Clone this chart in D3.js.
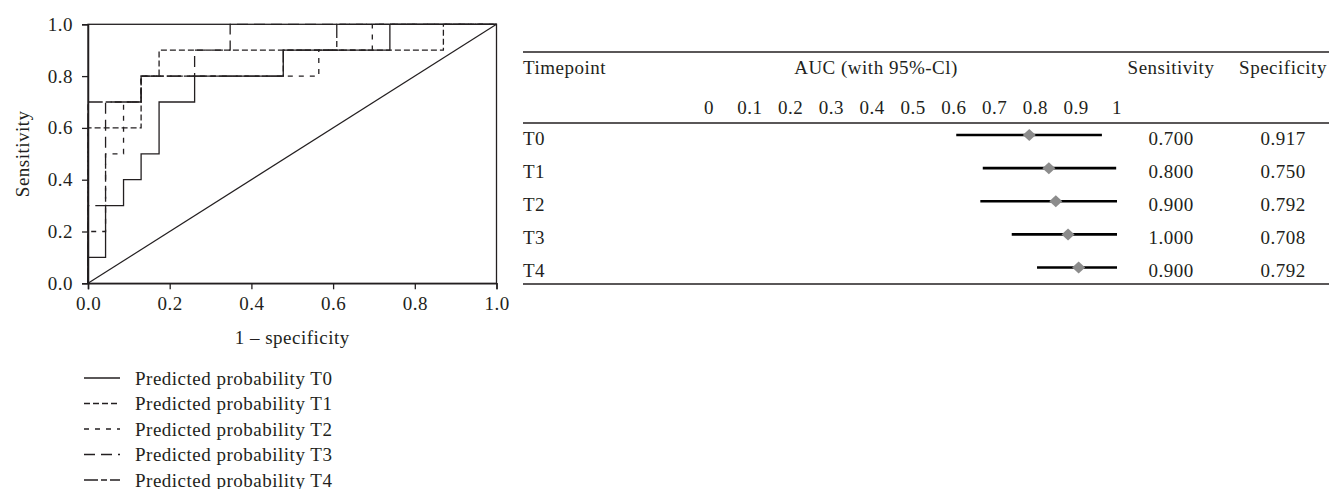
<!DOCTYPE html>
<html><head><meta charset="utf-8">
<script src="https://cdn.jsdelivr.net/npm/d3@7"></script>
<style>
html,body{margin:0;padding:0;background:#fff;}
text{font-family:"Liberation Serif","Times New Roman",serif;fill:#231f20;letter-spacing:0.5px;}
</style></head>
<body><svg id="c" width="1329" height="489"></svg>
<script>
// ---------- data ----------
const rocTicks = [0, 0.2, 0.4, 0.6, 0.8, 1.0];
const seriesNames = ["Predicted probability T0","Predicted probability T1","Predicted probability T2","Predicted probability T3","Predicted probability T4"];
const fprT0 = [0,0,0.043,0.043,0.087,0.087,0.130,0.130,0.174,0.174,0.261,0.261,0.478,0.478,0.739,0.739,1];
const tprT0 = [0,0.1,0.1,0.3,0.3,0.4,0.4,0.5,0.5,0.7,0.7,0.8,0.8,0.9,0.9,1,1];
const fprT1 = [0,0,0.130,0.130,0.174,0.174,0.870,0.870,1];
const tprT1 = [0,0.6,0.6,0.8,0.8,0.9,0.9,1,1];
const fprT2 = [0,0,0.043,0.043,0.087,0.087,0.130,0.130,0.565,0.565,0.696,0.696,1];
const tprT2 = [0,0.2,0.2,0.5,0.5,0.7,0.7,0.8,0.8,0.9,0.9,1,1];
const fprT3 = [0,0,0.043,0.043,0.130,0.130,0.261,0.261,0.348,0.348,1];
const tprT3 = [0,0.3,0.3,0.7,0.7,0.8,0.8,0.9,0.9,1,1];
const fprT4 = [0,0,0.130,0.130,0.478,0.478,0.609,0.609,1];
const tprT4 = [0,0.7,0.7,0.8,0.8,0.9,0.9,1,1];

const timepoints = ["T0","T1","T2","T3","T4"];
const aucEst   = [0.785,0.833,0.850,0.880,0.906];
const aucLow   = [0.606,0.671,0.665,0.742,0.804];
const aucHigh  = [0.963,0.998,1.000,1.000,1.000];
const sensitivity = ["0.700","0.800","0.900","1.000","0.900"];
const specificity = ["0.917","0.750","0.792","0.708","0.792"];
const aucTicks = [0,0.1,0.2,0.3,0.4,0.5,0.6,0.7,0.8,0.9,1];
const aucTickLabels = ["0","0.1","0.2","0.3","0.4","0.5","0.6","0.7","0.8","0.9","1"];

// ---------- styles ----------
const dashes = [null, "6,3", "5,6", "11,6", "14,3,6,3"];
const svg = d3.select("#c");
const FS = 19;

// ---------- ROC plot ----------
const x = d3.scaleLinear().domain([0,1]).range([88,496.5]);
const y = d3.scaleLinear().domain([0,1]).range([283.3,24.3]);

const g = svg.append("g");
g.append("rect").attr("x",x(0)).attr("y",y(1)).attr("width",x(1)-x(0)).attr("height",y(0)-y(1))
  .attr("fill","none").attr("stroke","#231f20").attr("stroke-width",1.3);
g.append("line").attr("x1",x(0)).attr("y1",y(0)).attr("x2",x(1)).attr("y2",y(1))
  .attr("stroke","#231f20").attr("stroke-width",1.2);

const xAxis = g.append("g").attr("transform",`translate(0,${y(0)})`)
  .call(d3.axisBottom(x).tickValues(rocTicks).tickFormat(d3.format(".1f")).tickSize(6).tickPadding(7));
const yAxis = g.append("g").attr("transform",`translate(${x(0)},0)`)
  .call(d3.axisLeft(y).tickValues(rocTicks).tickFormat(d3.format(".1f")).tickSize(6).tickPadding(9));
[xAxis,yAxis].forEach(a=>{
  a.select(".domain").attr("stroke","#231f20").attr("stroke-width",1.5);
  a.selectAll(".tick line").attr("stroke","#231f20").attr("stroke-width",1.3);
  a.selectAll(".tick text").attr("font-size",FS).attr("font-family",'"Liberation Serif",serif').attr("fill","#231f20");
});

const series = [[fprT0,tprT0],[fprT1,tprT1],[fprT2,tprT2],[fprT3,tprT3],[fprT4,tprT4]];
const line = d3.line().x(d=>x(d[0])).y(d=>y(d[1]));
series.forEach((s,i)=>{
  const pts = s[0].map((v,j)=>[v,s[1][j]]);
  g.append("path").attr("d",line(pts)).attr("fill","none")
    .attr("stroke","#231f20").attr("stroke-width",1.3)
    .attr("stroke-dasharray",dashes[i]);
});

g.append("text").attr("x",(x(0)+x(1))/2).attr("y",337).attr("text-anchor","middle").attr("dominant-baseline","central")
  .attr("font-size",FS).text("1 – specificity");
g.append("text").attr("transform",`translate(22,${(y(0)+y(1))/2}) rotate(-90)`)
  .attr("text-anchor","middle").attr("dominant-baseline","central").attr("font-size",FS).text("Sensitivity");

// legend
const legY = d3.scalePoint().domain(seriesNames).range([378,480]);
seriesNames.forEach((nm,i)=>{
  const yy = legY(nm);
  g.append("line").attr("x1",84).attr("x2",120).attr("y1",yy).attr("y2",yy)
    .attr("stroke","#231f20").attr("stroke-width",1.3).attr("stroke-dasharray",dashes[i]);
  g.append("text").attr("x",135).attr("y",yy).attr("dominant-baseline","central")
    .attr("font-size",FS).text(nm);
});

// ---------- table / forest plot ----------
const t = svg.append("g");
const ax = d3.scaleLinear().domain([0,1]).range([709,1117]);
const rowY = d3.scalePoint().domain(timepoints).range([135,267.5]);
const colSens = 1171, colSpec = 1283;

[52,123,284].forEach(yy=>{
  t.append("line").attr("x1",523).attr("x2",1329).attr("y1",yy).attr("y2",yy)
    .attr("stroke","#231f20").attr("stroke-width",1.4);
});
t.append("text").attr("x",523).attr("y",67).attr("dominant-baseline","central").attr("font-size",FS).text("Timepoint");
t.append("text").attr("x",876).attr("y",67).attr("dominant-baseline","central").attr("text-anchor","middle").attr("font-size",FS).text("AUC (with 95%-Cl)");
t.append("text").attr("x",colSens).attr("y",67).attr("dominant-baseline","central").attr("text-anchor","middle").attr("font-size",FS).text("Sensitivity");
t.append("text").attr("x",colSpec).attr("y",67).attr("dominant-baseline","central").attr("text-anchor","middle").attr("font-size",FS).text("Specificity");

aucTicks.forEach((v,i)=>{
  t.append("text").attr("x",ax(v)).attr("y",107.5).attr("dominant-baseline","central")
    .attr("text-anchor","middle").attr("font-size",FS).text(aucTickLabels[i]);
});

timepoints.forEach((tp,i)=>{
  const yy = rowY(tp);
  t.append("text").attr("x",523).attr("y",yy+3).attr("dominant-baseline","central").attr("font-size",FS).text(tp);
  t.append("line").attr("x1",ax(aucLow[i])).attr("x2",ax(aucHigh[i])).attr("y1",yy).attr("y2",yy)
    .attr("stroke","#000").attr("stroke-width",2.6);
  const cx = ax(aucEst[i]);
  t.append("path").attr("d",`M${cx-6.5},${yy}L${cx},${yy-6}L${cx+6.5},${yy}L${cx},${yy+6}Z`).attr("fill","#8c8c8c");
  t.append("text").attr("x",colSens).attr("y",yy+3).attr("dominant-baseline","central").attr("text-anchor","middle").attr("font-size",FS).text(sensitivity[i]);
  t.append("text").attr("x",colSpec).attr("y",yy+3).attr("dominant-baseline","central").attr("text-anchor","middle").attr("font-size",FS).text(specificity[i]);
});
</script></body></html>
